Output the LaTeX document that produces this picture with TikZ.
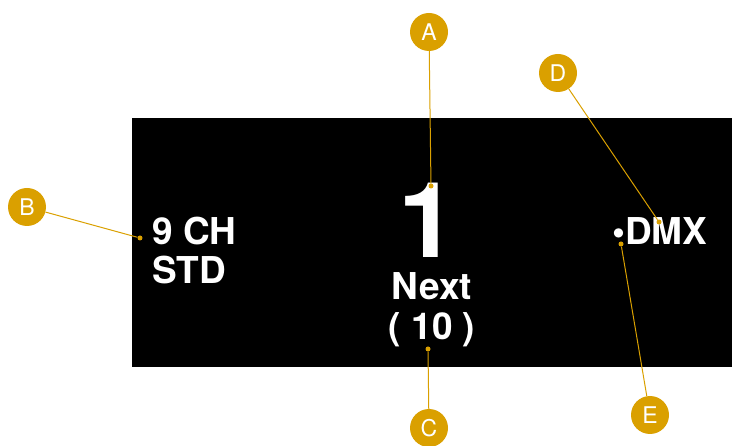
\documentclass[tikz,border=0pt]{standalone}
\usepackage{fontspec}
\setmainfont{TeX Gyre Heros}
\definecolor{callout}{RGB}{218,160,0}

\begin{document}
\begin{tikzpicture}[x=1pt,y=-1pt,
  tag/.style={circle,fill=callout,text=white,minimum size=38pt,inner sep=0pt,font=\fontsize{23}{23}\selectfont},
  spot/.style={circle,fill=callout,minimum size=5pt,inner sep=0pt},
  lead/.style={draw=callout,line width=1pt},
  lcd/.style={text=white,inner sep=0pt,font=\bfseries\fontsize{37}{37}\selectfont}]
  \useasboundingbox (0,0) rectangle (732,446);
  % display
  \fill[black] (132,118) rectangle (732,367);
  \node [lcd,anchor=base west] (ch) at (152,245) {9 CH};
  \node [lcd,anchor=base west] (std) at (152,284) {STD};
  \node [lcd,anchor=base,font=\bfseries\fontsize{105}{105}\selectfont] (num) at (428,258) {1};
  \node [lcd,anchor=base] (nxt) at (432,300) {Next};
  \node [lcd,anchor=base] (cnt) at (432,340) {( 10 )};
  \node [lcd,anchor=base west] (dmx) at (612,245) {•DMX};
  % callouts
  \node [spot] (pa) at (431,186) {};
  \node [spot] (pb) at (140,238) {};
  \node [spot] (pc) at (428,349) {};
  \node [spot] (pd) at (659,222) {};
  \node [spot] (pe) at (621,244) {};
  \node [tag] (a) at (429,32) {A};
  \node [tag] (b) at (27,207) {B};
  \node [tag] (c) at (429,428) {C};
  \node [tag] (d) at (558,73) {D};
  \node [tag] (e) at (650,415) {E};
  \draw [lead] (a) -- (pa);
  \draw [lead] (b) -- (pb);
  \draw [lead] (c) -- (pc);
  \draw [lead] (d) -- (pd);
  \draw [lead] (e) -- (pe);
\end{tikzpicture}
\end{document}
